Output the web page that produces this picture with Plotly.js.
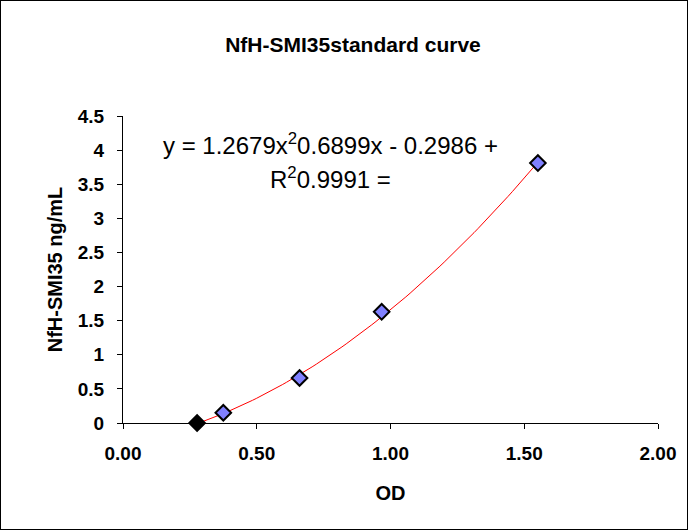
<!DOCTYPE html>
<html>
<head>
<meta charset="utf-8">
<script src="https://cdn.plot.ly/plotly-3.0.1.min.js"></script>
<style>
html, body { margin: 0; padding: 0; background: #fff; }
#chart { width: 688px; height: 530px; box-sizing: border-box; border: 1px solid #000; }
</style>
</head>
<body>
<div id="chart"></div>
<script>
// Standard points
const odValues = [0.277, 0.375, 0.66, 0.967, 1.551];
const concValues = [0, 0.15, 0.66, 1.63, 3.81];
const markerFills = ['#000000', '#8080FF', '#8080FF', '#8080FF', '#8080FF'];

// Polynomial trendline coefficients as displayed on the chart (a, b, c)
const trendCoef = [1.2679, 0.6899, -0.2986];
const rSquared = 0.9991;

const xTickVals = [0, 0.5, 1, 1.5, 2];
const xTickText = ['0.00', '0.50', '1.00', '1.50', '2.00'];
const yTickVals = [0, 0.5, 1, 1.5, 2, 2.5, 3, 3.5, 4, 4.5];
const yTickText = ['0', '0.5', '1', '1.5', '2', '2.5', '3', '3.5', '4', '4.5'];

// trendline evaluated over the range of the standards
const xMin = Math.min(...odValues), xMax = Math.max(...odValues);
const trendX = [], trendY = [];
const nSteps = 80;
for (let i = 0; i <= nSteps; i++) {
  const x = xMin + (xMax - xMin) * i / nSteps;
  trendX.push(x);
  trendY.push(trendCoef[0] * x * x + trendCoef[1] * x + trendCoef[2]);
}

const trend = {
  x: trendX, y: trendY, mode: 'lines', type: 'scatter',
  line: { color: '#FF0000', width: 1 }, hoverinfo: 'skip', showlegend: false
};
const pts = {
  x: odValues, y: concValues, mode: 'markers', type: 'scatter',
  marker: { symbol: 'diamond', size: 12, color: markerFills, line: { color: '#000000', width: 2 } },
  showlegend: false, cliponaxis: false
};

const fam = 'Liberation Sans, Arial, sans-serif';
const tickFont = { family: fam, size: 19, color: '#000', weight: 'bold' };

const layout = {
  width: 686, height: 528,
  margin: { l: 122, r: 29, t: 115, b: 106 },
  paper_bgcolor: '#fff', plot_bgcolor: '#fff',
  title: {
    text: '<b>NfH-SMI35standard curve</b>',
    font: { family: fam, size: 21, color: '#000' },
    xref: 'container', yref: 'container', x: 352 / 686, y: 1 - 44 / 528,
    xanchor: 'center', yanchor: 'middle'
  },
  xaxis: {
    range: [0, 2], tickvals: xTickVals, ticktext: xTickText,
    showgrid: false, zeroline: false, showline: true, linecolor: '#000', linewidth: 1,
    ticks: 'outside', ticklen: 5, tickcolor: '#000', tickwidth: 1,
    tickfont: tickFont,
    ticklabelstandoff: 8,
    title: { text: '<b>OD</b>', font: { family: fam, size: 20, color: '#000' }, standoff: 23 }
  },
  yaxis: {
    range: [0, 4.5], tickvals: yTickVals, ticktext: yTickText,
    showgrid: false, zeroline: false, showline: true, linecolor: '#000', linewidth: 1,
    ticks: 'outside', ticklen: 5, tickcolor: '#000', tickwidth: 1,
    tickfont: tickFont,
    ticklabelstandoff: 9,
    title: { text: '<b>NfH-SMI35 ng/mL</b>', font: { family: fam, size: 20, color: '#000' }, standoff: 9 }
  },
  annotations: [
    {
      xref: 'paper', yref: 'paper', x: (330 - 123) / 534, y: (422 - 144) / 306,
      text: 'y = ' + trendCoef[0] + 'x<sup>2</sup>' + trendCoef[1] + 'x - ' + Math.abs(trendCoef[2]) + ' +',
      showarrow: false, xanchor: 'center', yanchor: 'middle',
      font: { family: fam, size: 24, color: '#000' }
    },
    {
      xref: 'paper', yref: 'paper', x: (330 - 123) / 534, y: (422 - 178) / 306,
      text: 'R<sup>2</sup>' + rSquared + ' =',
      showarrow: false, xanchor: 'center', yanchor: 'middle',
      font: { family: fam, size: 24, color: '#000' }
    }
  ]
};

Plotly.newPlot('chart', [trend, pts], layout, { displayModeBar: false, responsive: false });
</script>
</body>
</html>
